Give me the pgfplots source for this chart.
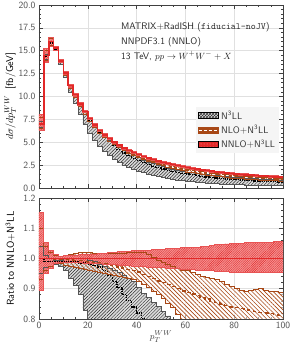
\documentclass[border=0pt]{standalone}
\usepackage{pgfplots}
\pgfplotsset{compat=1.18}
\usepackage{pgfplotstable}
\usepgfplotslibrary{fillbetween}
\usetikzlibrary{patterns,patterns.meta}
\renewcommand{\familydefault}{\sfdefault}
\definecolor{myred}{RGB}{226,40,40}
\definecolor{mylred}{RGB}{244,150,150}
\definecolor{mybrown}{RGB}{168,72,22}
\definecolor{mygray}{RGB}{85,85,85}
\definecolor{mylgray}{RGB}{220,220,220}
\pgfplotstableread{
x c rl rh nc nl nh gc gl gh
0 7.0 0.895 1.152 1.0 0.93 1.10 1.0 0.95 1.04
2 14.5 0.95 1.052 1.0 0.96 1.04 0.99 0.97 1.01
4 16.0 0.967 1.028 1.0 0.975 1.02 0.99 0.975 1.0
6 15.3 0.982 1.012 0.998 0.985 1.01 0.99 0.98 0.995
8 13.9 0.988 1.008 0.997 0.984 1.008 0.99 0.975 0.995
10 12.6 0.988 1.009 0.996 0.978 1.01 0.99 0.96 1.0
12 11.2 0.987 1.010 0.995 0.973 1.013 0.99 0.935 1.0
14 10.2 0.987 1.011 0.994 0.970 1.018 0.99 0.91 1.0
16 9.2 0.986 1.012 0.993 0.967 1.02 0.985 0.88 1.0
18 8.35 0.985 1.013 0.991 0.964 1.02 0.985 0.83 1.0
20 7.6 0.984 1.014 0.989 0.961 1.02 0.98 0.78 0.995
22 6.9 0.983 1.015 0.987 0.958 1.018 0.978 0.75 0.99
24 6.3 0.982 1.016 0.985 0.955 1.017 0.972 0.72 0.982
26 5.8 0.981 1.018 0.982 0.951 1.016 0.96 0.69 0.975
28 5.4 0.980 1.019 0.979 0.948 1.016 0.945 0.66 0.968
30 5.0 0.979 1.020 0.976 0.945 1.017 0.925 0.63 0.96
32 4.67 0.978 1.022 0.972 0.942 1.018 0.905 0.60 0.953
34 4.36 0.977 1.023 0.968 0.938 1.018 0.88 0.57 0.945
36 4.1 0.976 1.024 0.964 0.934 1.02 0.86 0.55 0.935
38 3.86 0.975 1.025 0.96 0.93 1.02 0.84 0.52 0.925
40 3.64 0.974 1.026 0.955 0.924 1.02 0.82 0.50 0.905
42 3.44 0.973 1.027 0.948 0.915 1.02 0.80 0.48 0.885
44 3.27 0.972 1.028 0.94 0.905 1.015 0.785 0.46 0.87
46 3.1 0.971 1.029 0.933 0.892 1.005 0.77 0.44 0.855
48 2.94 0.970 1.030 0.926 0.88 0.995 0.755 0.42 0.84
50 2.8 0.969 1.031 0.92 0.868 0.988 0.74 0.40 0.825
52 2.67 0.968 1.032 0.915 0.852 0.982 0.725 0.38 0.81
54 2.55 0.967 1.033 0.908 0.838 0.975 0.71 0.36 0.795
56 2.44 0.966 1.034 0.90 0.815 0.968 0.70 0.35 0.79
58 2.34 0.965 1.035 0.893 0.80 0.962 0.69 0.34 0.785
60 2.24 0.964 1.036 0.887 0.785 0.96 0.68 0.33 0.78
62 2.15 0.963 1.037 0.882 0.775 0.955 0.67 0.32 0.778
64 2.06 0.962 1.038 0.877 0.765 0.948 0.66 0.31 0.775
66 1.98 0.961 1.040 0.872 0.755 0.94 0.65 0.30 0.772
68 1.9 0.960 1.041 0.866 0.745 0.937 0.64 0.29 0.77
70 1.83 0.959 1.043 0.86 0.735 0.933 0.63 0.28 0.767
72 1.76 0.958 1.045 0.855 0.725 0.93 0.62 0.27 0.765
74 1.7 0.957 1.047 0.85 0.715 0.925 0.61 0.26 0.762
76 1.64 0.956 1.048 0.845 0.705 0.915 0.60 0.255 0.76
78 1.58 0.955 1.050 0.84 0.695 0.907 0.595 0.25 0.757
80 1.53 0.955 1.050 0.838 0.69 0.90 0.59 0.245 0.755
82 1.48 0.955 1.051 0.834 0.685 0.893 0.585 0.24 0.752
84 1.44 0.954 1.052 0.83 0.68 0.89 0.58 0.235 0.75
86 1.4 0.954 1.052 0.828 0.675 0.893 0.575 0.23 0.748
88 1.36 0.954 1.053 0.825 0.67 0.897 0.57 0.225 0.745
90 1.32 0.953 1.053 0.822 0.665 0.90 0.565 0.22 0.742
92 1.29 0.953 1.054 0.82 0.66 0.895 0.56 0.215 0.74
94 1.26 0.953 1.054 0.818 0.655 0.892 0.555 0.21 0.738
96 1.23 0.953 1.055 0.815 0.65 0.89 0.55 0.205 0.735
98 1.2 0.953 1.055 0.812 0.645 0.888 0.545 0.2 0.732
100 1.2 0.953 1.055 0.812 0.645 0.888 0.545 0.2 0.732
}\data

\newcommand{\bands}[3]{%
\addplot[const plot, draw=none, name path=gl#2] table[x=x, y expr={#1\thisrow{gl}}] {\data};
\addplot[const plot, draw=none, name path=gh#2] table[x=x, y expr={#1\thisrow{gh}}] {\data};
\addplot[fill=mylgray, draw=none] fill between[of=gl#2 and gh#2];
\addplot[pattern={Lines[angle=45,distance=2.3pt,line width=0.45pt]}, pattern color=black!85, draw=none] fill between[of=gl#2 and gh#2];
\addplot[const plot, mygray, line width=0.8pt] table[x=x, y expr={#1\thisrow{gl}}] {\data};
\addplot[const plot, mygray, line width=0.8pt] table[x=x, y expr={#1\thisrow{gh}}] {\data};
\addplot[const plot, black, densely dotted, line width=1.3pt] table[x=x, y expr={#1\thisrow{gc}}] {\data};
\addplot[const plot, draw=none, name path=nl#2] table[x=x, y expr={#1\thisrow{nl}}] {\data};
\addplot[const plot, draw=none, name path=nh#2] table[x=x, y expr={#1\thisrow{nh}}] {\data};
\addplot[fill=white, fill opacity=0.55, draw=none] fill between[of=nl#2 and nh#2];
\addplot[pattern={Lines[angle=-45,distance=3.0pt,line width=0.65pt]}, pattern color=mybrown, draw=none] fill between[of=nl#2 and nh#2];
\addplot[const plot, mybrown, line width=0.8pt] table[x=x, y expr={#1\thisrow{nl}}] {\data};
\addplot[const plot, mybrown, line width=0.8pt] table[x=x, y expr={#1\thisrow{nh}}] {\data};
\addplot[const plot, mybrown, dashed, dash pattern=on 4pt off 3pt, line width=1.4pt] table[x=x, y expr={#1\thisrow{nc}}] {\data};
\addplot[const plot, draw=none, name path=rl#2] table[x=x, y expr={#1\thisrow{rl}}] {\data};
\addplot[const plot, draw=none, name path=rh#2] table[x=x, y expr={#1\thisrow{rh}}] {\data};
\addplot[fill=mylred, draw=none] fill between[of=rl#2 and rh#2];
\addplot[pattern={Lines[angle=45,distance=1.6pt,line width=0.4pt]}, pattern color=myred, draw=none] fill between[of=rl#2 and rh#2];
\addplot[const plot, myred!80, line width=#3] table[x=x, y expr={#1\thisrow{rl}}] {\data};
\addplot[const plot, myred!80, line width=#3] table[x=x, y expr={#1\thisrow{rh}}] {\data};
\addplot[const plot, myred, line width=1.6pt] table[x=x, y expr={#1 1}] {\data};
}

\pgfplotsset{
  mystyle/.style={
    scale only axis, width=244pt,
    xmin=0, xmax=100,
    xtick={0,20,...,100}, minor x tick num=3,
    tick align=inside,
    major tick length=4pt, minor tick length=2.2pt,
    every tick/.style={black!75, line width=0.6pt},
    axis line style={black!75, line width=0.8pt},
    grid=major, major grid style={black!12, line width=0.5pt},
    /pgf/number format/assume math mode=true,
    tick label style={font=\fontsize{9.5}{11}\selectfont, text=black!70},
    label style={font=\fontsize{9.5}{11}\selectfont, text=black!75},
    every axis y label/.style={at={(axis description cs:-0.118,0.5)}, rotate=90, anchor=center},
  }
}

\begin{document}
\begin{tikzpicture}
\begin{axis}[mystyle, name=top, at={(0pt,0pt)}, anchor=south west, height=183pt,
  ymin=0, ymax=20, ytick={0,2.5,...,20}, minor y tick num=4,
  yticklabel style={/pgf/number format/.cd, fixed, fixed zerofill, precision=1},
  xticklabels={},
  ylabel={$d\sigma/dp_T^{WW}$\ \ [fb/GeV]},
  legend style={at={(0.985,0.445)}, anchor=north east, fill=black!4, draw=none,
    font=\fontsize{9.5}{11}\selectfont, text=black!80, row sep=0.6pt, inner sep=2pt,
    cells={anchor=west}},
]
\addlegendimage{legend image code/.code={\draw[mygray, fill=mylgray, line width=0.6pt] (0pt,-3pt) rectangle (20pt,3pt); \fill[pattern=crosshatch, pattern color=black!80] (0pt,-3pt) rectangle (20pt,3pt);}}
\addlegendentry{N\textsuperscript{3}LL}
\addlegendimage{legend image code/.code={\draw[mybrown, fill=mybrown, line width=0.6pt] (0pt,-3pt) rectangle (20pt,3pt); \draw[white, dash pattern=on 3pt off 2pt, line width=0.9pt] (0pt,0pt) -- (20pt,0pt);}}
\addlegendentry{NLO+N\textsuperscript{3}LL}
\addlegendimage{legend image code/.code={\draw[myred, fill=myred, line width=0.6pt] (0pt,-3pt) rectangle (20pt,3pt); \fill[pattern=dots, pattern color=mylred] (0pt,-3pt) rectangle (20pt,3pt);}}
\addlegendentry{NNLO+N\textsuperscript{3}LL}
\bands{\thisrow{c}*}{a}{1.3pt}
\node[anchor=north west, align=left, font=\fontsize{9.5}{15}\selectfont, text=black!85] at (rel axis cs:0.322,0.925)
  {MATRIX+RadISH (\texttt{fiducial-noJV})\\NNPDF3.1 (NNLO)\\13 TeV, $pp\to W^{+}W^{-}+X$};
\end{axis}
\begin{axis}[mystyle, at={(0pt,-10pt)}, anchor=north west, height=121pt,
  ymin=0.8, ymax=1.2, ytick={0.8,0.9,1.0,1.1,1.2}, minor y tick num=4,
  yticklabel style={/pgf/number format/.cd, fixed, fixed zerofill, precision=1},
  xlabel={$p_T^{WW}$},
  xlabel style={yshift=5pt},
  ylabel={Ratio to NNLO+N\textsuperscript{3}LL},
]
\bands{}{b}{0.9pt}
\end{axis}
\pgfresetboundingbox
\useasboundingbox (-39pt,-157pt) rectangle (254pt,188pt);
\end{tikzpicture}
\end{document}
